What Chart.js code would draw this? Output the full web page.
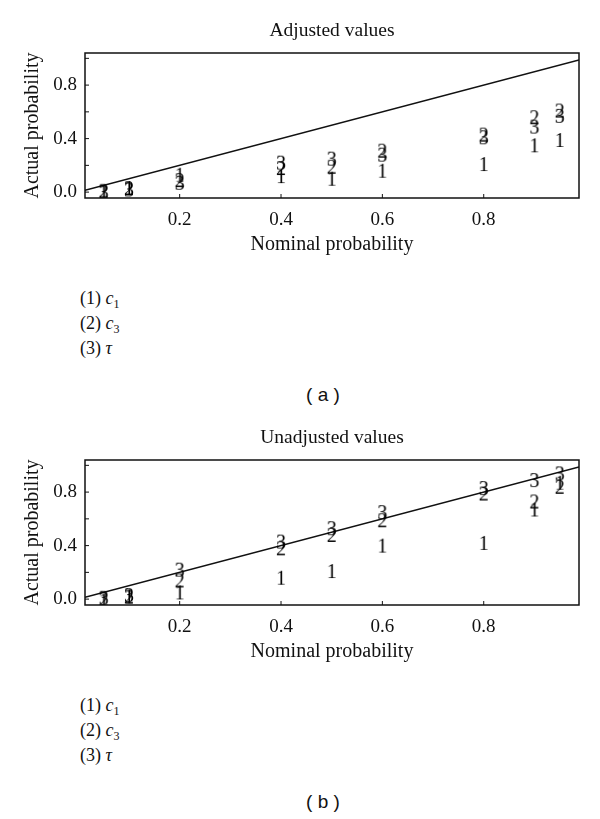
<!DOCTYPE html>
<html>
<head>
<meta charset="utf-8">
<script src="https://cdn.jsdelivr.net/npm/chart.js@4.4.1/dist/chart.umd.min.js"></script>
<style>
  body { margin: 0; background: #fff; }
  .panel { position: absolute; left: 0; width: 600px; height: 407px; }
  .plot { position: absolute; left: 0; top: 0; width: 600px; height: 270px; }
  .legend { position: absolute; left: 80px; top: 286px; font: 18px "Liberation Serif", serif; line-height: 25px; color: #111; }
  .legend i { font-style: italic; }
  .legend sub { font-size: 12px; vertical-align: -4px; line-height: 0; }
  .caption { position: absolute; left: 0; width: 646px; top: 384px; text-align: center; font: 19px "Liberation Sans", sans-serif; color: #111; }
</style>
</head>
<body>
<div class="panel" style="top:0">
  <div class="plot"><canvas id="adjusted-chart"></canvas></div>
  <div class="legend">(1) <i>c</i><sub>1</sub><br>(2) <i>c</i><sub>3</sub><br>(3) <i>τ</i></div>
  <div class="caption">( a )</div>
</div>
<div class="panel" style="top:407px">
  <div class="plot"><canvas id="unadjusted-chart"></canvas></div>
  <div class="legend">(1) <i>c</i><sub>1</sub><br>(2) <i>c</i><sub>3</sub><br>(3) <i>τ</i></div>
  <div class="caption">( b )</div>
</div>
<script>
// nominal probabilities
const nominal = [0.05, 0.1, 0.2, 0.4, 0.5, 0.6, 0.8, 0.9, 0.95];

// adjusted values
const adjC1 = [0.0, 0.03, 0.13, 0.12, 0.10, 0.16, 0.21, 0.35, 0.39];
const adjC3 = [0.01, 0.03, 0.09, 0.18, 0.19, 0.31, 0.43, 0.56, 0.61];
const adjTau = [0.0, 0.02, 0.07, 0.22, 0.25, 0.28, 0.41, 0.49, 0.57];

// unadjusted values
const unC1 = [-0.01, 0.02, 0.05, 0.16, 0.21, 0.40, 0.42, 0.67, 0.87];
const unC3 = [0.0, 0.02, 0.14, 0.38, 0.48, 0.59, 0.79, 0.73, 0.84];
const unTau = [0.01, 0.03, 0.22, 0.43, 0.53, 0.65, 0.83, 0.89, 0.94];

// diagonal reference line ends, axis ranges and ticks
const diagonal = [0.0132, 0.988];
const xRange = [0.0132, 0.988];
const yRange = [-0.044, 1.04];
const xTicks = [0.2, 0.4, 0.6, 0.8];
const yTicks = [0, 0.2, 0.4, 0.6, 0.8, 1.0];
const yLabelled = [0, 0.4, 0.8];

const serif = '"Liberation Serif", "Times New Roman", serif';

function digitMarker(digit) {
    const c = document.createElement('canvas');
    c.width = 16;
    c.height = 22;
    const g = c.getContext('2d');
    g.font = '20px ' + serif;
    g.fillStyle = '#000';
    g.textAlign = 'center';
    g.textBaseline = 'alphabetic';
    g.fillText(digit, 8, 11 + 6.8);
    return c;
}

// box and inward ticks
const frame = {
    id: 'frame',
    afterDatasetsDraw(chart) {
        const {ctx, chartArea: a, scales} = chart;
        ctx.save();
        ctx.strokeStyle = '#111';
        ctx.lineWidth = 1.5;
        ctx.strokeRect(a.left, a.top, a.right - a.left, a.bottom - a.top);
        ctx.lineWidth = 1;
        ctx.beginPath();
        yTicks.forEach(v => {
            const y = scales.y.getPixelForValue(v);
            ctx.moveTo(a.left, y);
            ctx.lineTo(a.left + 4, y);
        });
        xTicks.forEach(v => {
            const x = scales.x.getPixelForValue(v);
            ctx.moveTo(x, a.bottom);
            ctx.lineTo(x, a.bottom - 4);
        });
        ctx.stroke();
        ctx.restore();
    }
};

function createChart(containerId, title, c1, c3, tau) {
    const series = [c1, c3, tau];
    const datasets = [{
        type: 'line',
        data: diagonal.map(v => ({x: v, y: v})),
        borderColor: '#111',
        borderWidth: 1.6,
        pointRadius: 0,
        order: 1
    }];
    ['1', '2', '3'].forEach((d, i) => {
        datasets.push({
            type: 'scatter',
            data: nominal.map((x, j) => ({x: x, y: series[i][j]})),
            pointStyle: digitMarker(d),
            pointRadius: 8,
            order: 0
        });
    });

    new Chart(document.getElementById(containerId), {
        type: 'scatter',
        data: {datasets: datasets},
        options: {
            responsive: true,
            maintainAspectRatio: false,
            animation: false,
            layout: {padding: {left: 0, right: 21, top: 0, bottom: 0}},
            plugins: {
                legend: {display: false},
                tooltip: {enabled: false},
                title: {
                    display: true,
                    text: title,
                    fullSize: false,
                    color: '#111',
                    font: {family: serif, size: 19.5, weight: 'normal'},
                    padding: {top: 19.3, bottom: 10.3}
                }
            },
            scales: {
                x: {
                    type: 'linear',
                    min: xRange[0],
                    max: xRange[1],
                    afterBuildTicks: s => { s.ticks = xTicks.map(v => ({value: v})); },
                    afterFit: s => { s.height = 72; },
                    grid: {display: false, drawTicks: false},
                    border: {display: false},
                    ticks: {
                        padding: 11,
                        color: '#111',
                        font: {family: serif, size: 19},
                        callback: v => v.toFixed(1)
                    },
                    title: {
                        display: true,
                        text: 'Nominal probability',
                        color: '#111',
                        font: {family: serif, size: 20},
                        padding: {top: 0, bottom: 13}
                    }
                },
                y: {
                    type: 'linear',
                    min: yRange[0],
                    max: yRange[1],
                    afterBuildTicks: s => { s.ticks = yTicks.map(v => ({value: v})); },
                    afterFit: s => { s.width = 85; },
                    grid: {display: false, drawTicks: false},
                    border: {display: false},
                    ticks: {
                        padding: 8,
                        color: '#111',
                        font: {family: serif, size: 19},
                        callback: v => yLabelled.includes(v) ? v.toFixed(1) : ''
                    },
                    title: {
                        display: true,
                        text: 'Actual probability',
                        color: '#111',
                        font: {family: serif, size: 20},
                        padding: {top: 20.5, bottom: 0}
                    }
                }
            }
        },
        plugins: [frame]
    });
}

createChart('adjusted-chart', 'Adjusted values', adjC1, adjC3, adjTau);
createChart('unadjusted-chart', 'Unadjusted values', unC1, unC3, unTau);
</script>
</body>
</html>
